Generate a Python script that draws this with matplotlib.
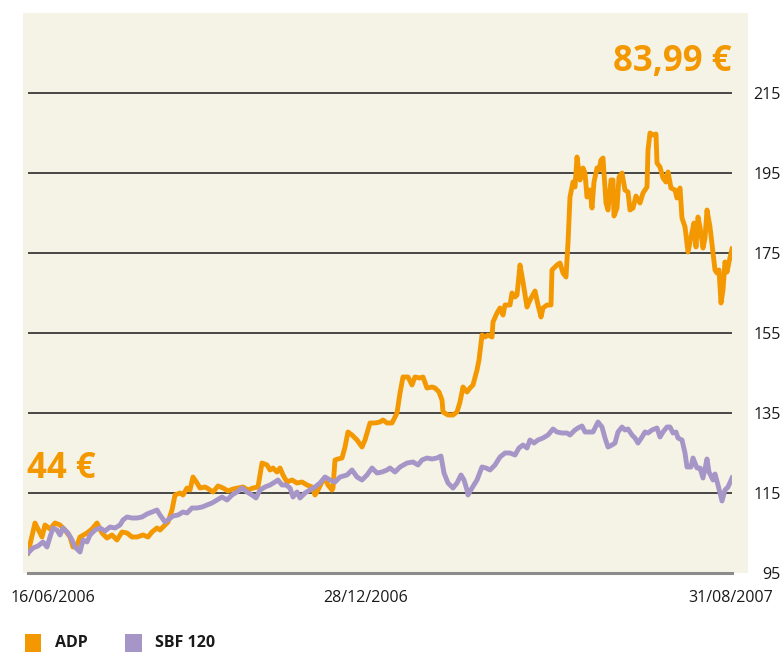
import matplotlib.pyplot as plt
from matplotlib.patches import Rectangle

# time index (0 = 16/06/2006, 704 = 31/08/2007), values rebased to 100
adp_t = [0, 7, 10, 14, 17, 22, 27, 32, 37, 42, 45, 49, 52, 59, 64, 69, 74, 79, 84, 89,
         94, 99, 104, 109, 115, 120, 124, 129, 132, 137, 140, 144, 147, 152, 155, 159, 162, 165, 169, 172,
         177, 179, 185, 190, 195, 200, 205, 210, 215, 220, 225, 230, 234, 239, 242, 245, 249, 252, 255, 259,
         264, 269, 274, 279, 284, 287, 290, 294, 297, 300, 304, 305, 307, 310, 314, 317, 320, 324, 329, 334,
         337, 342, 347, 352, 355, 359, 364, 369, 372, 375, 380, 384, 387, 392, 395, 399, 404, 407, 411, 414,
         415, 420, 425, 429, 432, 435, 439, 442, 445, 449, 451, 454, 457, 460, 464, 465, 469, 472, 475, 477,
         482, 484, 487, 489, 492, 495, 499, 502, 507, 510, 513, 515, 519, 523, 524, 529, 532, 535, 538, 540,
         542, 545, 547, 549, 552, 555, 557, 559, 562, 564, 566, 569, 571, 573, 575, 578, 580, 583, 585, 586,
         589, 591, 594, 597, 600, 602, 605, 608, 612, 615, 619, 620, 622, 625, 628, 629, 632, 635, 638, 640,
         643, 647, 649, 652, 654, 657, 660, 664, 666, 668, 670, 672, 675, 677, 679, 682, 685, 687, 689, 691,
         693, 695, 697, 699, 701, 704]
adp = [100, 107.5, 106, 104, 107, 106, 107.5, 107, 105.75, 104, 101.5, 102, 104, 105, 106, 107.5, 105, 103.75, 104.5, 103.25,
       105.25, 105, 104, 104, 104.5, 104, 105.25, 106.25, 105.75, 107, 107.75, 110.75, 114.5, 115, 114.5, 116.25, 115.75, 119, 117.5, 116.25,
       116.5, 116.25, 115.25, 116.75, 116.25, 115.5, 116, 116.25, 116.5, 115.75, 116.25, 116.5, 122.5, 122, 120.75, 121.25, 120.25, 121.25, 119.5, 117.75,
       118.25, 117.5, 117.75, 117, 116.5, 114.5, 115.75, 117.75, 118.75, 117, 115.75, 116.25, 123.25, 123.5, 123.75, 126.5, 130.25, 129.5, 128.25, 126.5,
       128.25, 132.5, 132.5, 132.75, 133.25, 132.5, 132.5, 135, 140, 144, 144, 142, 144, 143.75, 144, 141.25, 141.5, 141.25, 140.25, 138.25,
       135.25, 134.5, 134.5, 135.25, 137.75, 141.5, 140.25, 141.25, 142, 145.75, 148.25, 154.5, 154, 154.5, 154, 157.75, 160, 161.25, 159.5, 162,
       162, 165, 164, 164.5, 172, 167.75, 161.5, 163.25, 165.5, 162, 159, 161.25, 162, 162, 170.75, 172, 172.5, 170, 169, 177.5,
       189, 192.75, 191.5, 199, 193.25, 196.25, 195, 189, 190.75, 186.25, 192.75, 196.25, 195.75, 198.25, 198.75, 187.5, 185.75, 193.25, 193.25, 184.25,
       186.25, 194, 195, 190.75, 190.25, 185.75, 186.25, 189.25, 187.5, 190, 191.5, 200.75, 205, 204.5, 204.75, 197.5, 196.5, 193.75, 192.75, 195.25,
       191.25, 190.75, 188.75, 191.25, 183.75, 181.5, 175.25, 180.25, 182.5, 176.5, 184, 181.5, 176.25, 178.75, 185.75, 181.5, 175, 170.75, 170, 170.75,
       162.5, 165.75, 172.75, 170.25, 172.75, 176]

sbf_t = [0, 5, 10, 15, 19, 22, 25, 29, 32, 35, 40, 44, 47, 52, 55, 59, 62, 67, 72, 77,
         82, 87, 92, 95, 99, 104, 109, 114, 119, 124, 129, 132, 137, 140, 145, 150, 155, 159, 164, 169,
         174, 179, 184, 189, 194, 199, 204, 209, 214, 219, 224, 228, 232, 237, 242, 247, 250, 254, 258, 262,
         265, 269, 272, 277, 282, 287, 292, 297, 302, 307, 312, 319, 324, 329, 334, 339, 344, 349, 354, 359,
         362, 367, 372, 379, 385, 390, 394, 399, 404, 409, 413, 416, 420, 425, 429, 433, 436, 439, 440, 444,
         449, 454, 458, 462, 467, 472, 477, 482, 487, 491, 495, 499, 502, 506, 510, 515, 520, 525, 529, 534,
         539, 542, 547, 550, 554, 557, 562, 565, 570, 574, 577, 580, 584, 587, 590, 594, 597, 600, 604, 607,
         610, 614, 617, 620, 624, 629, 632, 635, 639, 642, 645, 648, 650, 654, 657, 659, 663, 665, 669, 672,
         675, 679, 681, 685, 687, 690, 694, 697, 700, 704]
sbf = [100, 101.25, 101.75, 102.75, 101.5, 104, 106.25, 105.75, 104.5, 106.25, 105, 103.25, 101.5, 100.25, 103.25, 102.75, 104.5, 105.75, 106.25, 105.5,
       106.5, 106.25, 107, 108.25, 109, 108.75, 108.75, 109, 109.75, 110.25, 110.75, 109.5, 107.75, 108.25, 109.25, 109.5, 110.25, 110, 111.25, 111.25,
       111.5, 112, 112.5, 113.25, 114, 113.25, 114.5, 115.25, 116.25, 115.25, 114.5, 113.75, 115.75, 116.5, 117, 117.75, 118.25, 117, 117, 116.25,
       114, 115.25, 113.75, 115, 115.75, 116.5, 117.5, 119, 118.25, 117.75, 119, 119.5, 120.75, 119, 118.25, 119.5, 121.25, 120, 120.25, 120.75,
       121.25, 120.25, 121.5, 122.5, 122.75, 122, 123.25, 123.75, 123.5, 123.75, 124.25, 120, 117.5, 116.25, 117.5, 119.5, 118.25, 115.75, 114.5, 116.25,
       118.25, 121.5, 121.25, 120.75, 122, 124, 125, 125, 124.5, 126.25, 127, 126.25, 128.25, 127.5, 128.25, 128.75, 129.5, 131, 130.25, 130,
       130, 129.5, 130.75, 131.25, 131.75, 130.25, 130.25, 130.25, 132.75, 131.5, 128.75, 126.5, 127, 127.5, 130.25, 131.5, 130.75, 131, 129.5, 128.75,
       127.5, 129, 130.25, 130, 130.75, 131.25, 129, 130.25, 131.5, 131.5, 130, 130.25, 128.75, 128.25, 125, 121.5, 121.5, 123.75, 121.25, 121.25,
       118.75, 123.5, 120.25, 118.25, 119.75, 117, 113, 115.75, 116.5, 118.75]

y_ticks = [95, 115, 135, 155, 175, 195, 215]
date_pos = [25, 338, 703]
date_labels = ["16/06/2006", "28/12/2006", "31/08/2007"]

orange = "#f39800"
purple = "#a695c7"
cream = "#f5f2e6"
font = "Open Sans"

W, H = 782, 652
fig = plt.figure(figsize=(W / 100, H / 100), dpi=100)
fig.patches.append(Rectangle((23 / W, 1 - 573 / H), (748 - 23) / W, (573 - 13) / H,
                             transform=fig.transFigure, facecolor=cream, edgecolor="none", zorder=-5))

ax = fig.add_axes([28 / W, 1 - 573 / H, 704 / W, (573 - 13) / H])
ax.set_zorder(2)
ax.set_facecolor("none")
ax.set_xlim(0, 704)
ax.set_ylim(95, 235)
for s in ax.spines.values():
    s.set_visible(False)

for v in y_ticks:
    if v == 95:
        ax.axhline(v, color="#8c8c8c", lw=2.2, zorder=1, clip_on=False)
    else:
        ax.axhline(v, color="#2a2a2a", lw=1.2, zorder=1)

ax.plot(adp_t, adp, color=orange, lw=3.5, zorder=3, solid_joinstyle="round")
ax.plot(sbf_t, sbf, color=purple, lw=3.5, zorder=4, solid_joinstyle="round")

ax.yaxis.tick_right()
ax.set_yticks(y_ticks)
ax.set_yticklabels([str(v) for v in y_ticks], fontsize=11.5, family=font, color="#1a1a1a")
for lab in ax.get_yticklabels():
    lab.set_horizontalalignment("right")
ax.tick_params(axis="y", length=0, pad=35)
ax.set_xticks([])

for p, lab in zip(date_pos, date_labels):
    ax.text(p, 95 - 25 / 4, lab, ha="center", va="center", fontsize=11.5, family=font,
            color="#1a1a1a", clip_on=False)

ax.text(704, 220.5, "83,99 €", ha="right", va="baseline", fontsize=25, family=font,
        weight="bold", color=orange)
ax.text(-1, 118.75, "44 €", ha="left", va="baseline", fontsize=25, family=font,
        weight="bold", color=orange)

# legend
fig.patches.append(Rectangle((25 / W, 0), 16 / W, 18 / H, transform=fig.transFigure,
                             facecolor=orange, edgecolor="none"))
fig.text(55 / W, 1 / H, "ADP", fontsize=11.5, family=font, weight="bold", color="#1a1a1a",
         va="bottom")
fig.patches.append(Rectangle((125 / W, 0), 17 / W, 18 / H, transform=fig.transFigure,
                             facecolor=purple, edgecolor="none"))
fig.text(155 / W, 1 / H, "SBF 120", fontsize=11.5, family=font, weight="bold", color="#1a1a1a",
         va="bottom")

fig.savefig("out.png", dpi=100)
